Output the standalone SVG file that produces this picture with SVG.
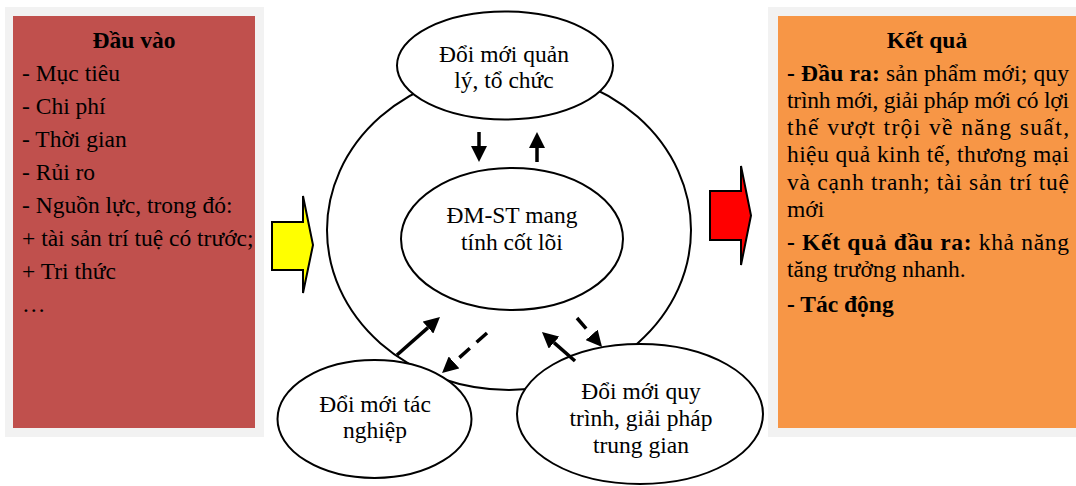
<svg xmlns="http://www.w3.org/2000/svg" width="1076" height="486" viewBox="0 0 1076 486">
<style>
text{font-family:"Liberation Serif","Times New Roman",serif;font-size:23.5px;fill:#000}
.b{font-weight:bold}
.c{text-anchor:middle}
.node{fill:#fff;stroke:#000;stroke-width:2}
.big{stroke:#000;stroke-width:2;stroke-linejoin:miter}
.arr{stroke:#000;stroke-width:3.5;fill:none}
.dash{stroke-dasharray:14 9}
</style>
<defs>
<marker id="ah" viewBox="0 -8 16 16" refX="0" refY="0" markerWidth="16" markerHeight="16" markerUnits="userSpaceOnUse" orient="auto">
<path d="M0,-8 L16,0 L0,8 z" fill="#000"/>
</marker>
</defs>
<rect width="1076" height="486" fill="#fff"/>

<g id="input">
<rect x="5" y="7" width="259" height="430" fill="#f2f2f2"/>
<rect x="13" y="16" width="242" height="412" fill="#c0504d"/>
<text x="134" y="48" class="b c">Đầu vào</text>
<text x="22" y="81">- Mục tiêu</text>
<text x="22" y="114">- Chi phí</text>
<text x="22" y="147">- Thời gian</text>
<text x="22" y="180">- Rủi ro</text>
<text x="22" y="213">- Nguồn lực, trong đó:</text>
<text x="22" y="246">+ tài sản trí tuệ có trước;</text>
<text x="22" y="279">+ Tri thức</text>
<text x="22" y="312">…</text>
</g>

<g id="result">
<rect x="768" y="7" width="308" height="430" fill="#f2f2f2"/>
<rect x="778" y="16" width="298" height="412" fill="#f79646"/>
<text x="927" y="48" class="b c">Kết quả</text>
<text x="787" y="81" textLength="282" lengthAdjust="spacing"><tspan class="b">- Đầu ra:</tspan> sản phẩm mới; quy</text>
<text x="787" y="108" textLength="282" lengthAdjust="spacing">trình mới, giải pháp mới có lợi</text>
<text x="787" y="135" textLength="282" lengthAdjust="spacing">thế vượt trội về năng suất,</text>
<text x="787" y="162" textLength="282" lengthAdjust="spacing">hiệu quả kinh tế, thương mại</text>
<text x="787" y="190" textLength="282" lengthAdjust="spacing">và cạnh tranh; tài sản trí tuệ</text>
<text x="787" y="217">mới</text>
<text x="787" y="250" textLength="282" lengthAdjust="spacing"><tspan class="b">- Kết quả đầu ra:</tspan> khả năng</text>
<text x="787" y="277">tăng trưởng nhanh.</text>
<text x="787" y="312" class="b">- Tác động</text>
</g>

<g id="flow-arrows">
<polygon class="big" fill="#ffff00" points="272,222 303,222 303,196 313,245 303,293 303,270 272,270"/>
<polygon class="big" fill="#ff0000" points="710,191 741,191 741,166 751,215.5 741,265 741,240 710,240"/>
</g>

<g id="cycle">
<ellipse class="node" cx="509" cy="230" rx="182" ry="160"/>
</g>

<g id="core">
<ellipse class="node" cx="512" cy="239" rx="111" ry="71"/>
<text x="512" y="223" class="c">ĐM-ST mang</text>
<text x="512" y="250" class="c">tính cốt lõi</text>
</g>

<g id="management">
<ellipse class="node" cx="505" cy="65.5" rx="108" ry="54"/>
<text x="504" y="61.5" class="c">Đổi mới quản</text>
<text x="504" y="88" class="c">lý, tổ chức</text>
</g>

<g id="operation">
<ellipse class="node" cx="374.5" cy="419" rx="97" ry="59"/>
<text x="375" y="411.5" class="c">Đổi mới tác</text>
<text x="375" y="438" class="c">nghiệp</text>
</g>

<g id="process">
<ellipse class="node" cx="640" cy="414" rx="123" ry="70"/>
<text x="641" y="399" class="c">Đổi mới quy</text>
<text x="641" y="426" class="c">trình, giải pháp</text>
<text x="641" y="453" class="c">trung gian</text>
</g>

<g id="connectors">
<line class="arr" x1="479" y1="132" x2="479" y2="146" marker-end="url(#ah)"/>
<line class="arr" x1="537" y1="162" x2="537" y2="148" marker-end="url(#ah)"/>
<line class="arr" x1="397" y1="355" x2="428" y2="327.6" marker-end="url(#ah)"/>
<line class="arr dash" x1="487" y1="333" x2="454" y2="362.4" marker-end="url(#ah)"/>
<line class="arr dash" x1="577" y1="318" x2="591.6" y2="334.9" marker-end="url(#ah)"/>
<line class="arr" x1="575" y1="361" x2="554" y2="342.6" marker-end="url(#ah)"/>
</g>
</svg>
